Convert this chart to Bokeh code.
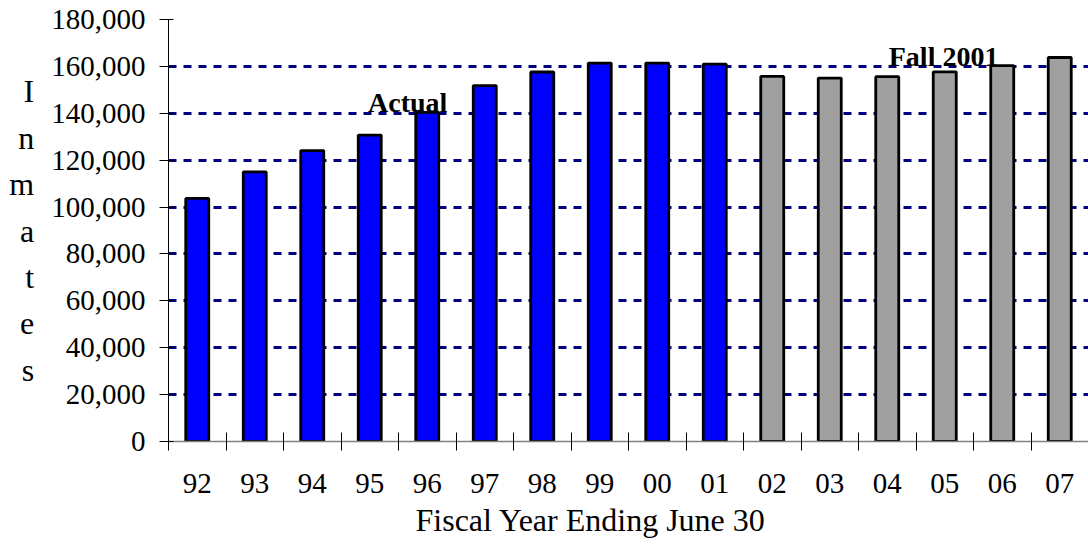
from bokeh.plotting import figure
from bokeh.models import (FactorRange, Range1d, LinearAxis, CategoricalAxis,
                          FixedTicker, NumeralTickFormatter, Label, Title)
from bokeh.embed import file_html
from bokeh.resources import INLINE

# ---- data ----
years = ["92", "93", "94", "95", "96", "97", "98", "99", "00", "01",
         "02", "03", "04", "05", "06", "07"]
actual_years = years[:10]
actual_inmates = [103700, 115000, 124100, 130700, 140400, 151800, 157600, 161400, 161400, 161000]
projected_years = years[10:]
projected_inmates = [155700, 155000, 155600, 157700, 160300, 163800]
y_ticks = [0, 20000, 40000, 60000, 80000, 100000, 120000, 140000, 160000, 180000]
y_title = "Inmates"
x_title = "Fiscal Year Ending June 30"
label_actual = "Actual"
label_projected = "Fall 2001"

FONT = "Liberation Serif"

p = figure(width=1088, height=547, output_backend="svg", toolbar_location=None,
           x_range=FactorRange(factors=years, range_padding=0),
           y_range=Range1d(0, 180000),
           x_axis_location=None,
           min_border_left=168, min_border_right=0, min_border_top=19, min_border_bottom=106)
p.outline_line_color = None
p.background_fill_color = "white"
p.border_fill_color = "white"

# boundary ticks between categories (synthetic coordinates 0..16)
tick_axis = LinearAxis(ticker=FixedTicker(ticks=list(range(0, len(years) + 1))),
                       axis_line_color="#808080", axis_line_width=1.5,
                       major_tick_in=9, major_tick_out=9,
                       major_tick_line_color="black", major_tick_line_width=1,
                       minor_tick_line_color=None,
                       major_label_text_font_size="0px", major_label_text_color=None,
                       major_label_standoff=0)
p.add_layout(tick_axis, "below")

cat_axis = CategoricalAxis(axis_line_color=None, major_tick_line_color=None,
                           minor_tick_line_color=None,
                           major_label_text_font=FONT, major_label_text_font_size="29px",
                           major_label_text_color="black", major_label_standoff=17)
p.add_layout(cat_axis, "below")

# x axis title (left-offset like the reference)
p.add_layout(Title(text=x_title, align="left", offset=247, standoff=9,
                   text_font=FONT, text_font_size="32px", text_font_style="normal",
                   text_color="black"), "below")

# y axis
ya = p.yaxis[0]
ya.ticker = FixedTicker(ticks=y_ticks)
ya.formatter = NumeralTickFormatter(format="0,0")
ya.axis_line_color = "black"
ya.axis_line_width = 1
ya.major_tick_in = 5
ya.major_tick_out = 9
ya.major_tick_line_color = "black"
ya.minor_tick_line_color = None
ya.major_label_text_font = FONT
ya.major_label_text_font_size = "29px"
ya.major_label_text_color = "black"
ya.major_label_standoff = 14
ya.axis_label = "\n".join(list(y_title))
ya.axis_label_orientation = "horizontal"
ya.axis_label_text_font = FONT
ya.axis_label_text_font_size = "32px"
ya.axis_label_text_font_style = "normal"
ya.axis_label_text_color = "black"
ya.axis_label_text_line_height = 1.29
ya.axis_label_standoff = 14

# grid
p.xgrid.grid_line_color = None
p.ygrid.ticker = FixedTicker(ticks=y_ticks[1:])
p.ygrid.grid_line_color = "#000080"
p.ygrid.grid_line_width = 3
p.ygrid.grid_line_dash = "8 7"

# bars
p.vbar(x=actual_years, top=actual_inmates, width=0.4, bottom=0,
       fill_color="#0000FF", line_color="black", line_width=2.8)
p.vbar(x=projected_years, top=projected_inmates, width=0.4, bottom=0,
       fill_color="#A0A0A0", line_color="black", line_width=2.8)

# annotations
p.add_layout(Label(x=4.16, y=144700, text=label_actual, text_font=FONT,
                   text_font_size="28px", text_font_style="bold", text_color="black",
                   text_align="center", text_baseline="alphabetic"))
p.add_layout(Label(x=13.48, y=164300, text=label_projected, text_font=FONT,
                   text_font_size="28px", text_font_style="bold", text_color="black",
                   text_align="center", text_baseline="alphabetic"))

open("out.html", "w").write(file_html(p, INLINE))
